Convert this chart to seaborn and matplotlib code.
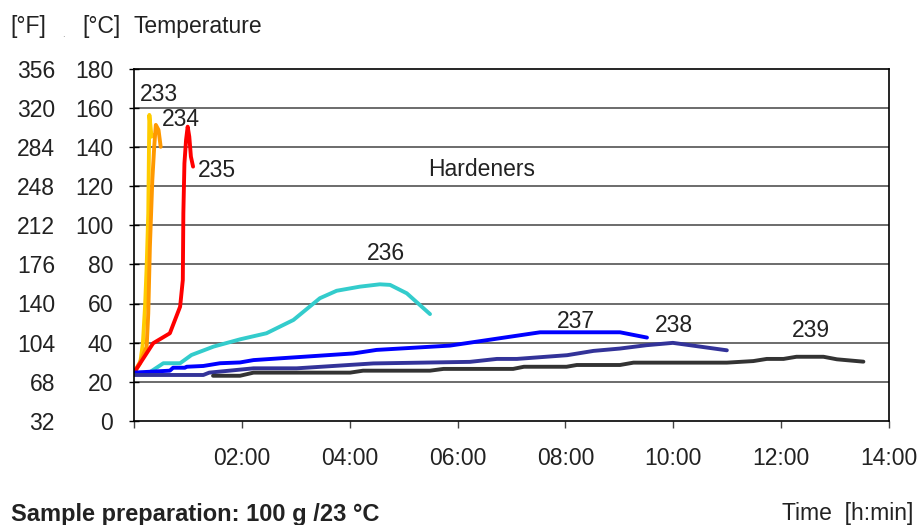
import numpy as np
import pandas as pd
import matplotlib
matplotlib.use("Agg")
import matplotlib.pyplot as plt
import seaborn as sns

# Temperature rise of 100 g samples per hardener, time in hours
t_233 = [0, 0.12, 0.17, 0.21, 0.24, 0.27, 0.28, 0.29, 0.33, 0.36]
c_233 = [24.4, 29.5, 39.7, 58.4, 78.8, 106.1, 131.6, 156.3, 145.2, 146.1]

t_234 = [0, 0.12, 0.24, 0.27, 0.30, 0.345, 0.38, 0.41, 0.46, 0.50]
c_234 = [24.4, 30.3, 37.9, 55.0, 89.0, 123.0, 140.0, 151.2, 148.6, 140.0]

t_235 = [0, 0.36, 0.67, 0.86, 0.91, 0.92, 0.94, 0.97, 1.00, 1.03, 1.06, 1.10]
c_235 = [24.4, 39.7, 44.8, 58.4, 72.0, 106.1, 131.6, 143.5, 150.3, 145.2, 135.0, 129.9]

t_236 = [0, 0.27, 0.55, 0.86, 1.07, 1.48, 1.97, 2.46, 2.96, 3.45, 3.76, 4.19, 4.56, 4.75, 5.06, 5.49]
c_236 = [24.4, 24.4, 29.5, 29.5, 33.7, 38.0, 41.7, 44.8, 51.6, 62.7, 66.5, 68.6, 69.8, 69.5, 65.2, 54.6]

t_237 = [0, 0.67, 0.73, 0.95, 0.98, 1.29, 1.60, 1.97, 2.22, 4.07, 4.50, 5.86, 7.53, 9.01, 9.51]
c_237 = [24.7, 25.7, 27.2, 27.2, 27.7, 28.1, 29.5, 29.9, 31.1, 34.5, 36.3, 38.5, 45.3, 45.3, 42.6]

t_238 = [0, 1.29, 1.40, 2.22, 3.02, 4.44, 6.23, 6.73, 7.10, 8.03, 8.52, 9.01, 9.50, 9.99, 10.99]
c_238 = [23.5, 23.5, 24.7, 26.9, 26.9, 29.4, 30.2, 31.7, 31.7, 33.6, 35.8, 37.0, 38.7, 39.9, 36.1]

t_239 = [1.47, 1.97, 2.22, 4.01, 4.25, 5.49, 5.74, 7.03, 7.23, 8.02, 8.21, 9.01, 9.26,
         10.99, 11.48, 11.73, 12.04, 12.28, 12.78, 13.03, 13.52]
c_239 = [23.1, 23.1, 24.7, 24.7, 25.7, 25.7, 26.6, 26.6, 27.7, 27.7, 28.6, 28.6, 29.8,
         29.8, 30.6, 31.7, 31.7, 32.8, 32.8, 31.5, 30.3]

hardeners = ["233", "234", "235", "236", "237", "238", "239"]
colors = ["#FFCC00", "#FF9900", "#FF0000", "#33CCCC", "#0000FF", "#333399", "#333333"]

# label anchor (hours, °C) for each curve
label_t = [0.47, 0.88, 1.54, 4.68, 8.20, 10.01, 12.55]
label_c = [166.5, 154.2, 127.7, 85.3, 51.0, 49.0, 46.0]

x_ticks = [0, 2, 4, 6, 8, 10, 12, 14]
x_labels = ["", "02:00", "04:00", "06:00", "08:00", "10:00", "12:00", "14:00"]
c_ticks = [0, 20, 40, 60, 80, 100, 120, 140, 160, 180]

series_t = [t_233, t_234, t_235, t_236, t_237, t_238, t_239]
series_c = [c_233, c_234, c_235, c_236, c_237, c_238, c_239]
df = pd.concat(
    [pd.DataFrame({"time": t, "temp": c, "hardener": h})
     for t, c, h in zip(series_t, series_c, hardeners)],
    ignore_index=True,
)

sns.set_theme(style="white")
plt.rcParams["font.family"] = ["Liberation Sans", "DejaVu Sans"]
txt = "#222222"
fs = 16.5

fig = plt.figure(figsize=(9.21, 5.25), dpi=100)
ax = fig.add_axes([133.7 / 921, 1 - 421 / 525, (889.3 - 133.7) / 921, (421 - 68.5) / 525])

for v in c_ticks[1:-1]:
    ax.axhline(v, color="#444444", lw=1.1, zorder=0)

sns.lineplot(data=df, x="time", y="temp", hue="hardener", hue_order=hardeners,
             palette=colors, sort=False, estimator=None, linewidth=2.8,
             legend=False, ax=ax)

for h, t, c in zip(hardeners, label_t, label_c):
    ax.text(t, c, h, ha="center", va="center", fontsize=fs, color=txt)
ax.text(6.45, 128.2, "Hardeners", ha="center", va="center", fontsize=fs, color=txt)

ax.set_xlim(0, 14)
ax.set_ylim(0, 180)
ax.set_xticks(x_ticks)
ax.set_xticklabels(x_labels)
ax.set_yticks(c_ticks)
ax.set_xlabel("")
ax.set_ylabel("")
for s in ax.spines.values():
    s.set_color("black")
    s.set_linewidth(1.2)
ax.tick_params(axis="x", direction="out", length=5, width=1, color="#444444",
               pad=14, labelsize=fs, labelcolor=txt, bottom=True)
ax.tick_params(axis="y", direction="inout", length=7.2, width=1, color="black",
               pad=11.3, labelsize=fs, labelcolor=txt, left=True)

# Fahrenheit scale alongside the Celsius one
sec = ax.secondary_yaxis("left", functions=(lambda c: c * 1.8 + 32, lambda f: (f - 32) / 1.8))
sec.set_yticks([c * 1.8 + 32 for c in c_ticks])
sec.set_yticklabels([f"{c * 1.8 + 32:.0f}" for c in c_ticks])
sec.spines["left"].set_visible(False)
sec.tick_params(axis="y", length=0, pad=56.7, labelsize=fs, labelcolor=txt)

yh = 1 - 33 / 525
fig.text(10 / 921, yh, "[°F]", ha="left", va="baseline", fontsize=fs, color=txt)
fig.text(62 / 921, 1 - 37 / 525, ".", ha="left", va="baseline", fontsize=7, color="#888888")
fig.text(82 / 921, yh, "[°C]", ha="left", va="baseline", fontsize=fs, color=txt)
fig.text(133 / 921, yh, "Temperature", ha="left", va="baseline", fontsize=fs, color=txt)

fig.text(11 / 921, 1 - 521 / 525, "Sample preparation: 100 g /23 °C", ha="left",
         va="baseline", fontsize=17, fontweight="bold", color=txt)
fig.text(913 / 921, 1 - 520 / 525, "Time  [h:min]", ha="right", va="baseline",
         fontsize=fs, color=txt)

fig.savefig("out.png", dpi=100)
